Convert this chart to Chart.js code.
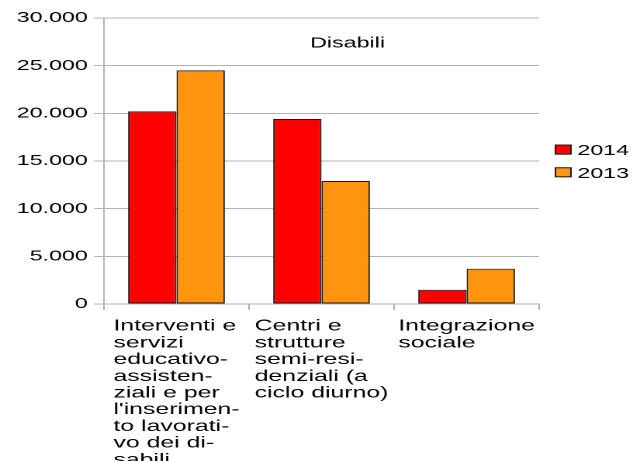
<!DOCTYPE html>
<html>
<head>
<meta charset="utf-8">
<script src="https://cdn.jsdelivr.net/npm/chart.js@4/dist/chart.umd.min.js"></script>
<style>
  html, body { margin: 0; padding: 0; background: #fff; overflow: hidden; }
  #wrap { width: 408px; height: 461px; transform: scaleX(1.5515); transform-origin: 0 0; }
</style>
</head>
<body>
<div id="wrap"><canvas id="chartDisabili" width="408" height="461"></canvas></div>
<script>
const titolo = "Disabili";
const categorie = [
    ["Interventi e", "servizi", "educativo-", "assisten-", "ziali e per", "l'inserimen-", "to lavorati-", "vo dei di-", "sabili"],
    ["Centri e", "strutture", "semi-resi-", "denziali (a", "ciclo diurno)"],
    ["Integrazione", "sociale"]
];
const anni = ["2014", "2013"];
const spesa2014 = [20200, 19400, 1500];
const spesa2013 = [24500, 12900, 3700];
const colori = ['#ff0000', '#ff950e'];
const asseMax = 30000;
const asseStep = 5000;

const FONT = "'Liberation Sans', Arial, sans-serif";
const BORDO = '#1a1a1a';

function formatMigliaia(v) {
    return String(v).replace(/\B(?=(\d{3})+(?!\d))/g, ".");
}

// etichette delle categorie: blocco centrato, righe allineate a sinistra
const etichetteX = {
    id: 'etichetteX',
    afterDraw(chart) {
        const ctx = chart.ctx;
        const x = chart.scales.x;
        ctx.save();
        ctx.font = "16px " + FONT;
        ctx.fillStyle = "#000";
        ctx.textAlign = "left";
        ctx.textBaseline = "alphabetic";
        categorie.forEach((righe, i) => {
            const larg = Math.max(...righe.map(r => ctx.measureText(r).width));
            const x0 = x.getPixelForValue(i) - larg / 2;
            righe.forEach((r, j) => ctx.fillText(r, x0, x.top + 26.7 + j * 16.7));
        });
        ctx.restore();
    }
};

const titoloInterno = {
    id: 'titoloInterno',
    afterDraw(chart) {
        const ctx = chart.ctx;
        ctx.save();
        ctx.font = "15px " + FONT;
        ctx.fillStyle = "#000";
        ctx.textAlign = "center";
        ctx.textBaseline = "alphabetic";
        ctx.fillText(titolo, chart.width * 0.549, 47.7);
        ctx.restore();
    }
};

// legenda a destra, centrata sull'area del grafico
const legendaDestra = {
    id: 'legendaDestra',
    afterDraw(chart) {
        const ctx = chart.ctx;
        const area = chart.chartArea;
        const centro = (area.top + area.bottom) / 2;
        const bx = area.right + 10;
        ctx.save();
        ctx.font = "15px " + FONT;
        ctx.textAlign = "left";
        ctx.textBaseline = "alphabetic";
        chart.data.datasets.forEach((ds, i) => {
            const top = centro - 16.4 + i * 22.7;
            ctx.fillStyle = ds.backgroundColor;
            ctx.fillRect(bx, top, 11, 10);
            ctx.strokeStyle = BORDO;
            ctx.lineWidth = 1;
            ctx.strokeRect(bx + 0.5, top + 0.5, 10, 9);
            ctx.fillStyle = "#000";
            ctx.fillText(ds.label, bx + 14.6, top + 10.5);
        });
        ctx.restore();
    }
};

const ctx = document.getElementById('chartDisabili').getContext('2d');
new Chart(ctx, {
    type: 'bar',
    data: {
        labels: categorie,
        datasets: [
            { label: anni[0], data: spesa2014, backgroundColor: colori[0], borderColor: BORDO, borderWidth: 1, borderSkipped: false },
            { label: anni[1], data: spesa2013, backgroundColor: colori[1], borderColor: BORDO, borderWidth: 1, borderSkipped: false }
        ]
    },
    options: {
        responsive: false,
        animation: false,
        devicePixelRatio: 2,
        layout: { padding: { top: 18, right: 60.5, bottom: 0, left: 0 } },
        datasets: { bar: { categoryPercentage: 0.667, barPercentage: 1.0 } },
        scales: {
            x: {
                offset: true,
                grid: { offset: true, drawOnChartArea: false, drawTicks: true, tickLength: 6, color: '#b3b3b3' },
                border: { color: '#b3b3b3' },
                ticks: { display: false },
                afterFit(scale) { scale.height = 157; }
            },
            y: {
                min: 0,
                max: asseMax,
                grid: { color: '#b3b3b3', tickLength: 6.4 },
                border: { color: '#b3b3b3' },
                ticks: {
                    stepSize: asseStep,
                    padding: 4,
                    color: '#000',
                    font: { family: FONT, size: 15 },
                    callback: v => formatMigliaia(v)
                },
                afterFit(scale) { scale.width = 67; }
            }
        },
        plugins: {
            tooltip: { enabled: false },
            legend: { display: false }
        }
    },
    plugins: [etichetteX, titoloInterno, legendaDestra]
});
</script>
</body>
</html>
